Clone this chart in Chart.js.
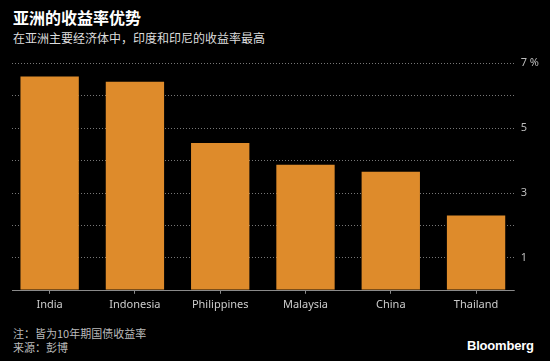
<!DOCTYPE html>
<html>
<head>
<meta charset="utf-8">
<script src="https://cdn.jsdelivr.net/npm/chart.js@4"></script>
<style>
  html, body { margin: 0; padding: 0; background: #000; }
  #wrap { position: relative; width: 550px; height: 361px; background: #000; overflow: hidden;
          font-family: 'Noto Sans', 'Noto Sans CJK SC', sans-serif; }
  #title { position: absolute; left: 13px; top: 5px; color: #fff; font-size: 16px; font-weight: bold;
           font-family: 'Noto Sans CJK SC', sans-serif; }
  #sub { position: absolute; left: 13px; top: 29px; color: #ddd; font-size: 12px;
         font-family: 'Noto Sans CJK SC', sans-serif; }
  #note { position: absolute; left: 13px; top: 326px; color: #bbb; font-size: 11px; line-height: 14px;
          font-family: 'Noto Sans CJK SC', sans-serif; }
  #logo { position: absolute; left: 467px; top: 338px; color: #fff; font-size: 13px; font-weight: bold;
          font-family: 'Liberation Sans', Arial, sans-serif; letter-spacing: -0.2px; }
  #box { position: absolute; left: 0; top: 50px; width: 550px; height: 265px; }
</style>
</head>
<body>
<div id="wrap">
  <div id="title">亚洲的收益率优势</div>
  <div id="sub">在亚洲主要经济体中，印度和印尼的收益率最高</div>
  <div id="box"><canvas id="chart"></canvas></div>
  <div id="note">注：皆为10年期国债收益率<br>来源：彭博</div>
  <div id="logo">Bloomberg</div>
</div>
<script>
const countries = ['India', 'Indonesia', 'Philippines', 'Malaysia', 'China', 'Thailand']
const yields = [6.58, 6.42, 4.53, 3.86, 3.64, 2.29]
const labeledTicks = { 7: '7 %', 5: '5', 3: '3', 1: '1' }

// dotted grid + baseline, a little inset like the original
const gridPlugin = {
    id: 'grid',
    beforeDatasetsDraw(chart) {
        const c = chart.ctx
        const area = chart.chartArea
        const y = chart.scales.y
        c.save()
        c.lineWidth = 1
        y.ticks.forEach(t => {
            const py = Math.round(y.getPixelForValue(t.value)) + 0.5
            if (t.value === 0) {
                c.setLineDash([])
                c.strokeStyle = '#8a8a8a'
            } else {
                c.setLineDash([1, 2])
                c.strokeStyle = '#777'
            }
            c.beginPath()
            c.moveTo(area.left + 5, py)
            c.lineTo(area.right - 4, py)
            c.stroke()
        })
        c.restore()
    }
}

const ctx = document.getElementById('chart').getContext('2d')

const chart = new Chart(ctx, {
    type: 'bar',
    data: {
        labels: countries,
        datasets: [{
            data: yields,
            backgroundColor: '#DE8B2B',
            categoryPercentage: 1,
            barPercentage: 0.684
        }]
    },
    options: {
        responsive: true,
        maintainAspectRatio: false,
        animation: false,
        layout: { padding: { left: 7, right: 9, top: 13, bottom: 0 } },
        plugins: { legend: { display: false }, tooltip: { enabled: false } },
        scales: {
            x: {
                grid: { offset: false, drawOnChartArea: false, tickLength: 4, color: '#8a8a8a' },
                border: { display: false },
                ticks: { color: '#ccc', padding: 4, font: { family: 'Noto Sans', size: 11 } }
            },
            y: {
                position: 'right',
                min: 0,
                max: 7,
                grid: { display: false, drawTicks: false },
                border: { display: false },
                ticks: {
                    stepSize: 1,
                    padding: 2,
                    color: '#bbb',
                    font: { family: 'Noto Sans', size: 11 },
                    callback: v => labeledTicks[v] || ''
                }
            }
        }
    },
    plugins: [gridPlugin]
})
</script>
</body>
</html>
